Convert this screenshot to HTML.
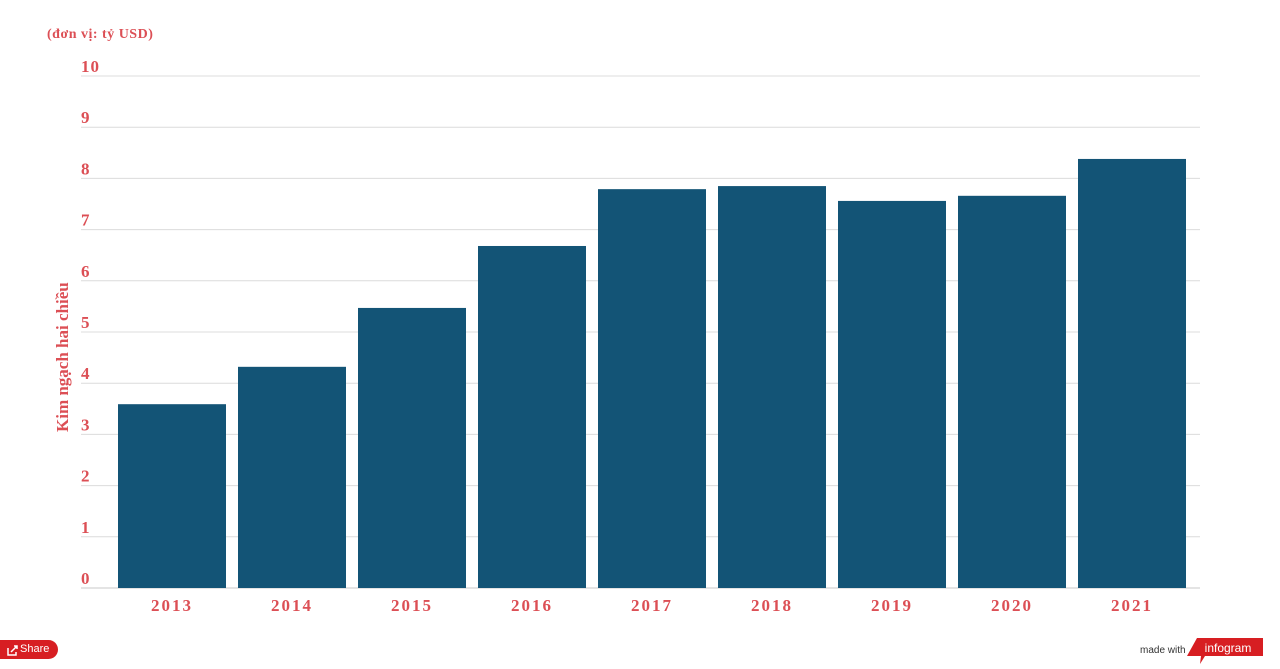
<!DOCTYPE html>
<html><head><meta charset="utf-8"><style>
body{margin:0;width:1280px;height:669px;background:#fff;overflow:hidden;font-family:"Liberation Serif",serif}
svg{position:absolute;left:0;top:0}
.share{position:absolute;left:0;top:640px;width:58px;height:19px;background:#d71e22;border-radius:0 10px 10px 0;color:#fff;font:11px "Liberation Sans",sans-serif;line-height:19px;padding-left:20px;box-sizing:border-box}
</style></head><body>
<svg id="c" width="1280" height="669">
<text x="47" y="38" fill="#dc4f55" font-weight="bold" font-size="14" letter-spacing="0.5" font-family="Liberation Serif,serif">(đơn vị: tỷ USD)</text>
<text transform="translate(68,432) rotate(-90)" fill="#dc4f55" font-weight="bold" font-size="17" font-family="Liberation Serif,serif">Kim ngạch hai chiều</text>
<g id="grid"></g><g id="bars"></g><g id="xl"></g>
<polygon points="1197,638 1263,638 1263,656 1205,656 1200,664 1201,656 1187,656" fill="#d71e22"/>
<text x="1228" y="652" fill="#fff" font-size="12" text-anchor="middle" font-family="Liberation Sans,sans-serif">infogram</text>
<text x="1140" y="653" fill="#333" font-size="10" font-family="Liberation Sans,sans-serif">made with</text>
</svg>
<div class="share">Share</div>
<svg width="14" height="14" style="left:6px;top:643px"><path d="M2 5v7h8v-3" stroke="#fff" fill="none" stroke-width="1.5"/><path d="M5 9l6-6M8 3h3v3" stroke="#fff" fill="none" stroke-width="1.5"/></svg>
<script>
const categories=["2013","2014","2015","2016","2017","2018","2019","2020","2021"];
const values=[3.59,4.32,5.47,6.68,7.79,7.85,7.56,7.66,8.38];
const ticks=[0,1,2,3,4,5,6,7,8,9,10];
const NS="http://www.w3.org/2000/svg";
const y=v=>588-v*51.2;
const x=i=>118+i*120;
function mk(t,a,p){const e=document.createElementNS(NS,t);for(const k in a)e.setAttribute(k,a[k]);p.appendChild(e);return e;}
const g=document.getElementById('grid'),b=document.getElementById('bars'),xl=document.getElementById('xl');
ticks.forEach(t=>{
 const l=mk('line',{x1:81,x2:1200,y1:y(t),y2:y(t),stroke:t?'#dcdcdc':'#c8c8c8','stroke-width':1},g);
 
 
 const tx=mk('text',{x:81,y:y(t)-4,fill:'#dc4f55','font-size':17,'font-weight':'bold','letter-spacing':1,'font-family':'Liberation Serif,serif'},g);
 tx.textContent=t;
 
 
});
values.forEach((v,i)=>{
 const r=mk('rect',{x:x(i),y:y(v),width:108,height:y(0)-y(v),fill:'#135476'},b);
 
 
 const tx=mk('text',{x:x(i)+54,y:611,fill:'#dc4f55','font-size':17,'font-weight':'bold','letter-spacing':2,'text-anchor':'middle','font-family':'Liberation Serif,serif'},xl);
 tx.textContent=categories[i];
 
 
});
</script>
</body></html>
